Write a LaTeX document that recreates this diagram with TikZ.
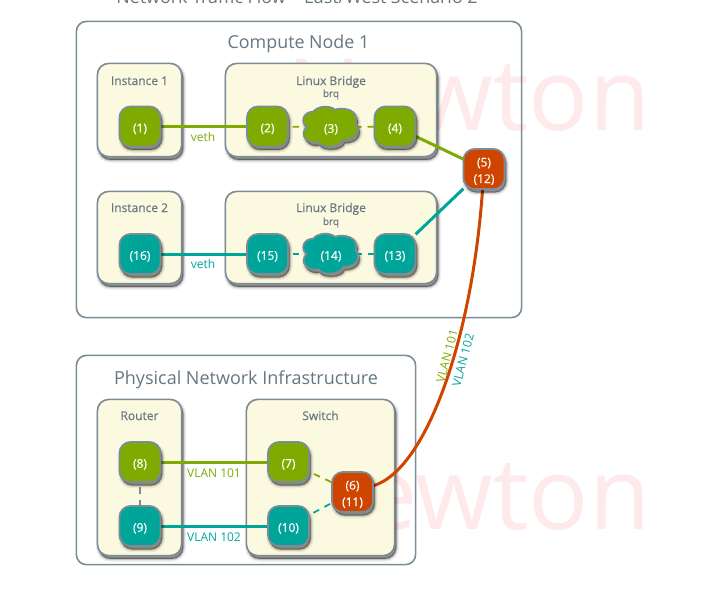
\documentclass[tikz,border=0pt]{standalone}
\usepackage{fontspec}
\setmainfont{Open Sans}
\newfontfamily\medfont[FakeBold=0.35]{Open Sans}
\definecolor{edge}{HTML}{7B8C96}
\definecolor{ink}{HTML}{65777F}
\definecolor{cream}{HTML}{FCF9E1}
\definecolor{grn}{HTML}{7FAB00}
\definecolor{teal2}{HTML}{00A59A}
\definecolor{org}{HTML}{CF4500}
\definecolor{wm}{HTML}{FEE9EB}
\pgfdeclarelayer{front}
\pgfsetlayers{main,front}
\newcommand{\pl}[1]{\raisebox{-1.8pt}[\height][\depth]{#1}}
\tikzset{
  pxsize/.style 2 args={minimum width=#1*0.75pt-0.6pt, minimum height=#2*0.75pt-0.6pt},
  softshadow/.style={
    preaction={draw=black,fill=black,draw opacity=.06,fill opacity=.1,line width=4.5pt,transform canvas={shift={(1.2pt,-2.4pt)}}},
    preaction={draw=black,fill=black,draw opacity=.12,fill opacity=.12,line width=2.5pt,transform canvas={shift={(1.2pt,-2.4pt)}}},
    preaction={draw=black,fill=black,draw opacity=.22,fill opacity=.22,line width=1pt,transform canvas={shift={(1.2pt,-2.4pt)}}}},
  outer/.style={draw=edge,line width=1.2pt,rounded corners=7.5pt,inner sep=0pt,outer sep=0pt},
  group/.style={draw=edge,fill=cream,line width=1.2pt,rounded corners=8.5pt,inner sep=0pt,outer sep=0pt,softshadow},
  port/.style={draw=edge,line width=1.3pt,rounded corners=8.5pt,inner sep=0pt,outer sep=0pt,text=white,align=center,pxsize={42}{41},softshadow,font=\medfont\fontsize{9}{12.4}\selectfont},
  gport/.style={port,fill=grn},
  tport/.style={port,fill=teal2},
  oport/.style={port,fill=org},
  cloudlabel/.style={inner sep=0pt,outer sep=0pt,text=white,font=\medfont\fontsize{9}{12.4}\selectfont},
  cloudshape/.style={draw=edge,line width=1.3pt,x=0.25pt,y=-0.25pt},
  bigtitle/.style={text=ink,font=\fontsize{13.4}{16}\selectfont,anchor=base,inner sep=0pt},
  grouptitle/.style={text=ink,font=\medfont\fontsize{9}{11}\selectfont,anchor=base,inner sep=0pt},
  subtitle/.style={text=ink,font=\medfont\fontsize{7.5}{9}\selectfont,anchor=base,inner sep=0pt},
  wire/.style={line width=2.25pt},
  dashwire/.style={line width=1.3pt,dash pattern=on 4.875pt off 4.5pt},
  lbl/.style={font=\fontsize{9}{11}\selectfont,anchor=base,inner sep=0pt},
}
\newcommand{\cloudblob}[3]{%
  \begin{scope}[shift={(#1,#2)}]
  \path[cloudshape,fill=#3,softshadow] (65,96) .. controls (45,80) and (55,50) .. (85,50)
    .. controls (95,35) and (130,28) .. (150,44)
    .. controls (175,35) and (225,45) .. (212,84)
    .. controls (228,100) and (220,135) .. (175,135)
    .. controls (165,160) and (110,160) .. (100,142)
    .. controls (70,150) and (40,120) .. (65,96) -- cycle;
  \end{scope}}
\begin{document}
\begin{tikzpicture}[x=0.75pt,y=-0.75pt]
\clip (0,0) rectangle (702,597);
\useasboundingbox (0,0) rectangle (702,597);
% watermark
\node[anchor=base east,inner sep=0pt,text=wm,font=\fontsize{75}{80}\selectfont] (wm1) at (651,130) {Newton};
\node[anchor=base east,inner sep=0pt,text=wm,font=\fontsize{75}{80}\selectfont] (wm2) at (651,529) {Newton};
% title
\node[bigtitle] (title) at (297,3) {Network Traffic Flow – East/West Scenario 2};
% outer boxes
\node[outer,pxsize={446}{297}] (compute) at (299,169.5) {};
\node[bigtitle] (computet) at (298.5,48) {Compute Node 1};
\node[outer,pxsize={340}{210}] (phys) at (246,460) {};
\node[bigtitle,font=\fontsize{13.5}{16}\selectfont] (physt) at (246,384) {Physical Network Infrastructure};
% groups
\node[group,pxsize={85}{94}] (inst1) at (139.5,110) {};
\node[group,pxsize={212}{94}] (br1) at (331,110) {};
\node[group,pxsize={85}{93}] (inst2) at (139.5,237.5) {};
\node[group,pxsize={212}{93}] (br2) at (331,237.5) {};
\node[group,pxsize={85}{157}] (router) at (139.5,477.5) {};
\node[group,pxsize={149}{157}] (switch) at (320.5,477.5) {};
\node[grouptitle] (inst1t) at (139.5,85) {Instance 1};
\node[grouptitle] (br1t) at (331,85) {Linux Bridge};
\node[subtitle] (br1s) at (331,97) {brq};
\node[grouptitle] (inst2t) at (139.5,212) {Instance 2};
\node[grouptitle] (br2t) at (331,212) {Linux Bridge};
\node[subtitle] (br2s) at (331,225) {brq};
\node[grouptitle] (routert) at (139.5,420) {Router};
\node[grouptitle] (switcht) at (320.5,420) {Switch};
% ports
\begin{pgfonlayer}{front}
\node[gport] (n1) at (140,126.5) {\pl{(1)}};
\node[gport] (n2) at (267.5,126.5) {\pl{(2)}};
\cloudblob{285}{95}{grn}
\node[cloudlabel] (n3) at (331,127) {\pl{(3)}};
\node[gport] (n4) at (395,126.5) {\pl{(4)}};
\node[oport] (n5) at (484,169) {\pl{(5)}\\\pl{(12)}};
\node[tport] (n16) at (140,254) {\pl{(16)}};
\node[tport] (n15) at (267.5,254) {\pl{(15)}};
\cloudblob{285}{222}{teal2}
\node[cloudlabel] (n14) at (331,254) {\pl{(14)}};
\node[tport] (n13) at (395,254) {\pl{(13)}};
\node[gport] (n8) at (140,462) {\pl{(8)}};
\node[tport] (n9) at (140,526) {\pl{(9)}};
\node[gport] (n7) at (288.5,462) {\pl{(7)}};
\node[tport] (n10) at (288.5,526) {\pl{(10)}};
\node[oport] (n6) at (352.5,492) {\pl{(6)}\\\pl{(11)}};
\end{pgfonlayer}
% connectors
\draw[wire,grn] (n1) -- (n2);
\draw[wire,teal2] (n16) -- (n15);
\draw[wire,grn] (n8) -- (n7);
\draw[wire,teal2] (n9) -- (n10);
\draw[wire,grn] (n4) -- (n5);
\draw[wire,teal2] (n13) -- (n5);
\draw[dashwire,grn] (n2.center) -- (n3.center) -- (n4.center);
\draw[dashwire,teal2] (n15.center) -- (n14.center) -- (n13.center);
\draw[dashwire,edge] (n8.center) -- (n9.center);
\draw[dashwire,grn,dash phase=7pt] (n7.center) -- (n6.center);
\draw[dashwire,teal2,dash phase=7pt] (n10.center) -- (n6.center);
\draw[wire,org] (n5) .. controls (472,340) and (426,470) .. (n6);
% labels
\node[lbl,text=grn] (l1) at (203,141) {veth};
\node[lbl,text=teal2] (l2) at (203,268) {veth};
\node[lbl,text=grn] (l3) at (214,477) {VLAN 101};
\node[lbl,text=teal2] (l4) at (214,541) {VLAN 102};
\node[font=\fontsize{9}{11}\selectfont,inner sep=0pt,text=grn,rotate=75] (l5) at (447,356) {VLAN 101};
\node[font=\fontsize{9}{11}\selectfont,inner sep=0pt,text=teal2,rotate=75] (l6) at (463,360) {VLAN 102};
\end{tikzpicture}
\end{document}
